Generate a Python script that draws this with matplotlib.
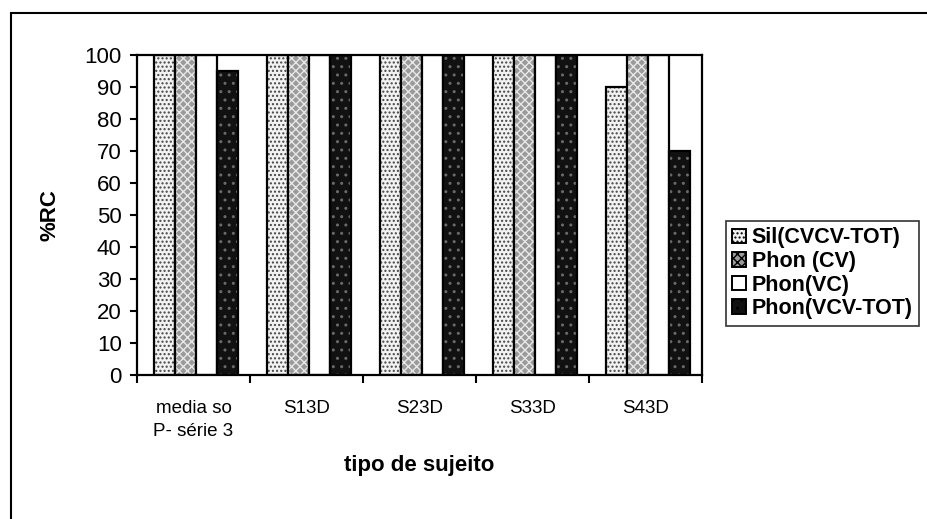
import numpy as np
import matplotlib
matplotlib.use("Agg")
import matplotlib.pyplot as plt
from matplotlib.patches import Rectangle
from matplotlib.ticker import FixedLocator, MultipleLocator

plt.rcParams['font.family'] = ['Liberation Sans', 'DejaVu Sans']

categories = ["media so\nP- série 3", "S13D", "S23D", "S33D", "S43D"]
series_names = ["Sil(CVCV-TOT)", "Phon (CV)", "Phon(VC)", "Phon(VCV-TOT)"]
sil_cvcv = [100, 100, 100, 100, 90]
phon_cv = [100, 100, 100, 100, 100]
phon_vc = [100, 100, 100, 100, 100]
phon_vcv = [95, 100, 100, 100, 70]

# face colour, hatch, hatch colour for each series (scanned stipple look)
styles = [
    ("#f2f2f2", "....", "#444444"),
    ("#9a9a9a", "xxxx", "#e8e8e8"),
    ("white", "", "black"),
    ("#111111", "..", "#6a6a6a"),
]

fig = plt.figure(figsize=(9.27, 5.19), dpi=100)
ax = fig.add_axes([137 / 927, 1 - 375 / 519, (702 - 137) / 927, (375 - 55) / 519])

x = np.arange(len(categories))
w = 0.186
data = [sil_cvcv, phon_cv, phon_vc, phon_vcv]
handles = []
for i, (vals, (fc, hatch, hc)) in enumerate(zip(data, styles)):
    pos = x + (i - 1.5) * w + 0.02
    ax.bar(pos, vals, w, color=fc, hatch=hatch, edgecolor=hc, linewidth=0)
    ax.bar(pos, vals, w, fill=False, edgecolor="black", linewidth=1.6)
    handles.append(Rectangle((0, 0), 1, 1, facecolor=fc, hatch=hatch,
                             edgecolor="black", linewidth=1.4))

ax.set_xlim(-0.5, len(categories) - 0.5)
ax.set_ylim(0, 100)
ax.yaxis.set_major_locator(MultipleLocator(10))
ax.set_xticks(x)
ax.set_xticklabels(categories, fontsize=13.5, linespacing=1.45)
ax.xaxis.set_minor_locator(FixedLocator(np.arange(-0.5, len(categories), 1)))
ax.tick_params(axis="x", which="major", length=0, pad=18)
ax.tick_params(axis="x", which="minor", length=6, width=1.5, direction="out")
ax.tick_params(axis="y", length=5, width=1.5, labelsize=16, pad=6)
for s in ax.spines.values():
    s.set_linewidth(1.6)

ax.set_ylabel("%RC", fontsize=16, fontweight="bold")
ax.yaxis.set_label_coords(-0.136, 0.5)
ax.set_xlabel("tipo de sujeito", fontsize=16, fontweight="bold")
ax.xaxis.set_label_coords(0.5, -0.25)

leg = fig.legend(handles, series_names, loc="upper left",
                 bbox_to_anchor=(726 / 927, 1 - 221 / 519),
                 prop={"weight": "bold", "size": 15.5}, frameon=True,
                 fancybox=False, handlelength=0.65, handleheight=0.65,
                 handletextpad=0.25, borderpad=0.3, labelspacing=0.12,
                 borderaxespad=0)
leg.get_frame().set_edgecolor("black")
leg.get_frame().set_linewidth(1.2)

# outer chart-area border (left and top visible)
fig.patches.append(Rectangle((11 / 927, -0.1), 1.2, 1.1 - 13 / 519,
                             transform=fig.transFigure, fill=False,
                             edgecolor="black", linewidth=1.5))

fig.savefig("out.png", dpi=100)
